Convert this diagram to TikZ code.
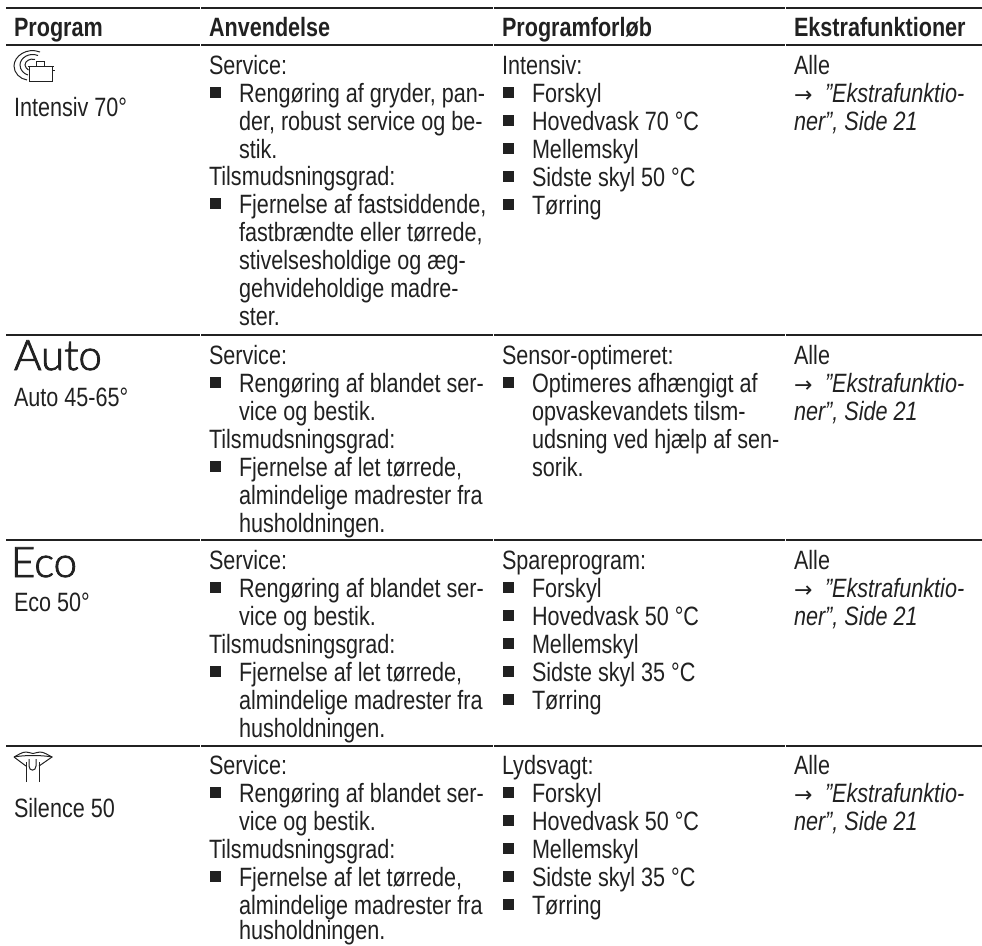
\documentclass[tikz,border=0pt]{standalone}
\usepackage{fontspec}
\setmainfont{Liberation Sans}[FakeStretch=0.815]
\newfontfamily\bigfont{Lato Light}[FakeBold=2]
\newfontfamily\arrfont{DejaVu Sans}
\newcounter{tn}
\definecolor{ink}{gray}{0.13}
\tikzset{
  txt/.style={anchor=base west,inner sep=0pt,outer sep=0pt,text=ink,font=\fontsize{26.5}{28}\selectfont},
  hdr/.style={txt,font=\fontsize{26.5}{28}\selectfont\bfseries},
  bigtxt/.style={txt,font=\bigfont\fontsize{42}{42}\selectfont},
  rulethick/.style={line width=1.6pt,draw=ink},
  rulethin/.style={line width=1.1pt,draw=ink},
  bul/.style={fill=ink,draw=none},
  ico/.style={draw=ink,line width=1pt,fill=none}
}
\newcommand{\tl}[3]{\stepcounter{tn}\node[txt] (t\arabic{tn}) at (#1,#2) {#3};}
\newcommand{\hd}[3]{\stepcounter{tn}\node[hdr] (t\arabic{tn}) at (#1,#2) {#3};}
\newcommand{\bu}[2]{\fill[bul] (#1,#2-15) rectangle ++(11,10.5);}
\newcommand{\hr}[2]{\foreach \a/\b in {6/200,201/492.5,493.5/784.5,785.5/982}{\draw[#2] (\a,#1) -- (\b,#1);}}
\newcommand{\svc}[2]{%
 \pgfmathsetmacro{\y}{#1}%
 \tl{209}{\y}{Service:}
 \pgfmathsetmacro{\y}{#1+28}\bu{210}{\y}\tl{239}{\y}{Rengøring af blandet ser-}
 \pgfmathsetmacro{\y}{#1+56}\tl{239}{\y}{vice og bestik.}
 \pgfmathsetmacro{\y}{#1+84}\tl{209}{\y}{Tilsmudsningsgrad:}
 \pgfmathsetmacro{\y}{#1+112}\bu{210}{\y}\tl{239}{\y}{Fjernelse af let tørrede,}
 \pgfmathsetmacro{\y}{#1+140}\tl{239}{\y}{almindelige madrester fra}
 \tl{239}{#2}{husholdningen.}
}
\newcommand{\steps}[4]{%
 \pgfmathsetmacro{\y}{#1}\tl{502}{\y}{#2}
 \pgfmathsetmacro{\y}{#1+28}\bu{503}{\y}\tl{532}{\y}{Forskyl}
 \pgfmathsetmacro{\y}{#1+56}\bu{503}{\y}\tl{532}{\y}{Hovedvask #3 °C}
 \pgfmathsetmacro{\y}{#1+84}\bu{503}{\y}\tl{532}{\y}{Mellemskyl}
 \pgfmathsetmacro{\y}{#1+112}\bu{503}{\y}\tl{532}{\y}{Sidste skyl #4 °C}
 \pgfmathsetmacro{\y}{#1+140}\bu{503}{\y}\tl{532}{\y}{Tørring}
}
\newcommand{\extra}[1]{%
 \pgfmathsetmacro{\y}{#1}\tl{794}{\y}{Alle}
 \pgfmathsetmacro{\y}{#1+28}\tl{794}{\y}{\makebox[31pt][l]{\arrfont\fontsize{22}{28}\selectfont →}\itshape "Ekstrafunktio-}
 \pgfmathsetmacro{\y}{#1+56}\tl{794}{\y}{\itshape ner", Side 21}
}
\begin{document}
\begin{tikzpicture}[x=1pt,y=-1pt]
\useasboundingbox (0,0) rectangle (982,945);
\hr{8}{rulethick}
\hr{45}{rulethin}
\hr{335}{rulethick}
\hr{540}{rulethick}
\hr{746}{rulethick}
\hd{14}{36.5}{Program}\hd{209}{36.5}{Anvendelse}\hd{502}{36.5}{Programforløb}\hd{794}{36.5}{Ekstrafunktioner}
% row 1
\draw[ico] (40,52) .. controls (27,47) and (14,56) .. (14,66) .. controls (14,73) and (20,79) .. (27,80);
\draw[ico] (38,55.5) .. controls (29,52) and (20,58) .. (20,65) .. controls (20,70) and (24,74) .. (28,75);
\draw[ico] (35,59.5) .. controls (30,58) and (25,61) .. (25,65) .. controls (25,67) and (27,69) .. (28.5,70);
\draw[ico,fill=white] (29,66) rectangle (52,81);
\draw[ico] (28,66) -- (53.5,66) (36,66) -- (36,61) -- (44,61) -- (44,66) (52,70) -- (54.5,70);
\tl{14}{116}{Intensiv 70°}
\tl{209}{74}{Service:}
\bu{210}{102}\tl{239}{102}{Rengøring af gryder, pan-}
\tl{239}{130}{der, robust service og be-}
\tl{239}{158}{stik.}
\tl{209}{185}{Tilsmudsningsgrad:}
\bu{210}{213}\tl{239}{213}{Fjernelse af fastsiddende,}
\tl{239}{241}{fastbrændte eller tørrede,}
\tl{239}{269}{stivelsesholdige og æg-}
\tl{239}{297}{gehvideholdige madre-}
\tl{239}{325}{ster.}
\steps{74}{Intensiv:}{70}{50}
\extra{74}
% row 2
\node[bigtxt] (auto) at (14,370) {Auto};
\tl{14}{406}{Auto 45-65°}
\svc{364}{532}
\tl{502}{364}{Sensor-optimeret:}
\bu{503}{392}\tl{532}{392}{Optimeres afhængigt af}
\tl{532}{420}{opvaskevandets tilsm-}
\tl{532}{448}{udsning ved hjælp af sen-}
\tl{532}{476}{sorik.}
\extra{364}
% row 3
\node[bigtxt] (eco) at (11,577) {Eco};
\tl{14}{611}{Eco 50°}
\svc{569}{737}
\steps{569}{Spareprogram:}{50}{35}
\extra{569}
% row 4
\draw[ico] (14,757) .. controls (18,755) and (22,752) .. (26,752) .. controls (29,752) and (31,753.5) .. (33,753.5) .. controls (35,753.5) and (37,752) .. (40,752) .. controls (44,752) and (48,755) .. (52,757) -- (39,766);
\draw[ico] (14,757) -- (26,766);
\draw[ico] (14,757) .. controls (24,755) and (42,755) .. (52,757);
\draw[ico] (26,782) -- (26,762) (39,782) -- (39,762);
\draw[ico] (29,759) -- (29,766) .. controls (29,771.5) and (36,771.5) .. (36,766) -- (36,759);
\tl{14}{817}{Silence 50}
\svc{774}{939}
\steps{774}{Lydsvagt:}{50}{35}
\extra{774}
\end{tikzpicture}
\end{document}
